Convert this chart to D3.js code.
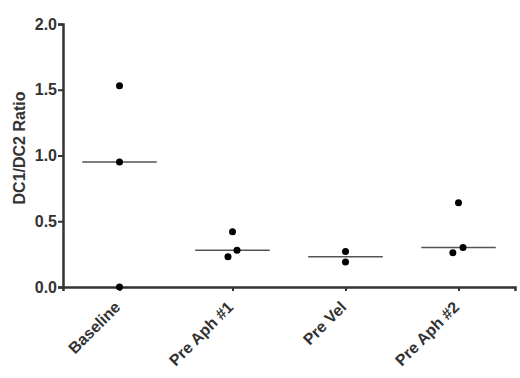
<!DOCTYPE html>
<html>
<head>
<meta charset="utf-8">
<script src="https://cdn.jsdelivr.net/npm/d3@7"></script>
<style>
  body { margin: 0; background: #fff; }
  text { font-family: "Liberation Sans", Arial, sans-serif; font-weight: bold; fill: #333; }
</style>
</head>
<body>
<div id="chart"></div>
<script>
const categories = ['Baseline', 'Pre Aph #1', 'Pre Vel', 'Pre Aph #2'];
const values = [
    [1.53, 0.95, 0.0],
    [0.42, 0.28, 0.23],
    [0.27, 0.19],
    [0.64, 0.30, 0.26]
];
// small horizontal jitter, as fraction of a category step
const jitter = [
    [0, 0, 0],
    [0, 0.04, -0.04],
    [0, 0],
    [0, 0.04, -0.05]
];
const medians = [0.95, 0.28, 0.23, 0.30];
const yTicks = [0, 0.5, 1.0, 1.5, 2.0];

const width = 520, height = 378;
const margin = { top: 24, right: 5, bottom: 91, left: 63 };

const svg = d3.select('#chart').append('svg')
    .attr('width', width)
    .attr('height', height);

const x = d3.scalePoint()
    .domain(categories)
    .range([margin.left, width - margin.right])
    .padding(0.5);

const y = d3.scaleLinear()
    .domain([0, 2])
    .range([height - margin.bottom, margin.top]);

const step = x.step();

// y axis
const yAxis = svg.append('g')
    .attr('transform', `translate(${margin.left},0)`)
    .call(d3.axisLeft(y).tickValues(yTicks).tickFormat(d3.format('.1f')).tickSize(5).tickPadding(1));
yAxis.select('.domain').attr('stroke', '#333').attr('stroke-width', 2.5);
yAxis.selectAll('.tick line').attr('stroke', '#333').attr('stroke-width', 2);
yAxis.selectAll('.tick text').style('font-size', '16px').attr('fill', '#333');

// x axis
const xAxis = svg.append('g')
    .attr('transform', `translate(0,${height - margin.bottom})`)
    .call(d3.axisBottom(x).tickSizeOuter(0).tickSize(4));
xAxis.select('.domain').attr('stroke', '#333').attr('stroke-width', 2.5);
xAxis.selectAll('.tick line').attr('stroke', '#333').attr('stroke-width', 2);
xAxis.selectAll('.tick text')
    .style('font-size', '16px')
    .attr('fill', '#333')
    .attr('text-anchor', 'end')
    .attr('x', -14)
    .attr('y', 16)
    .attr('dy', 0)
    .attr('transform', 'rotate(-45)');

// y label
svg.append('text')
    .attr('transform', `translate(25,148) rotate(-90)`)
    .attr('text-anchor', 'middle')
    .style('font-size', '16px')
    .text('DC1/DC2 Ratio');

// median lines
svg.append('g').selectAll('line')
    .data(medians)
    .join('line')
    .attr('x1', (d, i) => x(categories[i]) - step * 0.33)
    .attr('x2', (d, i) => x(categories[i]) + step * 0.33)
    .attr('y1', d => y(d))
    .attr('y2', d => y(d))
    .attr('stroke', '#555')
    .attr('stroke-width', 1.5);

// points
const points = values.flatMap((vals, i) =>
    vals.map((v, j) => ({ cat: categories[i], v, dx: jitter[i][j] })));

svg.append('g').selectAll('circle')
    .data(points)
    .join('circle')
    .attr('cx', d => x(d.cat) + d.dx * step)
    .attr('cy', d => y(d.v))
    .attr('r', 3.5)
    .attr('fill', '#000');
</script>
</body>
</html>
